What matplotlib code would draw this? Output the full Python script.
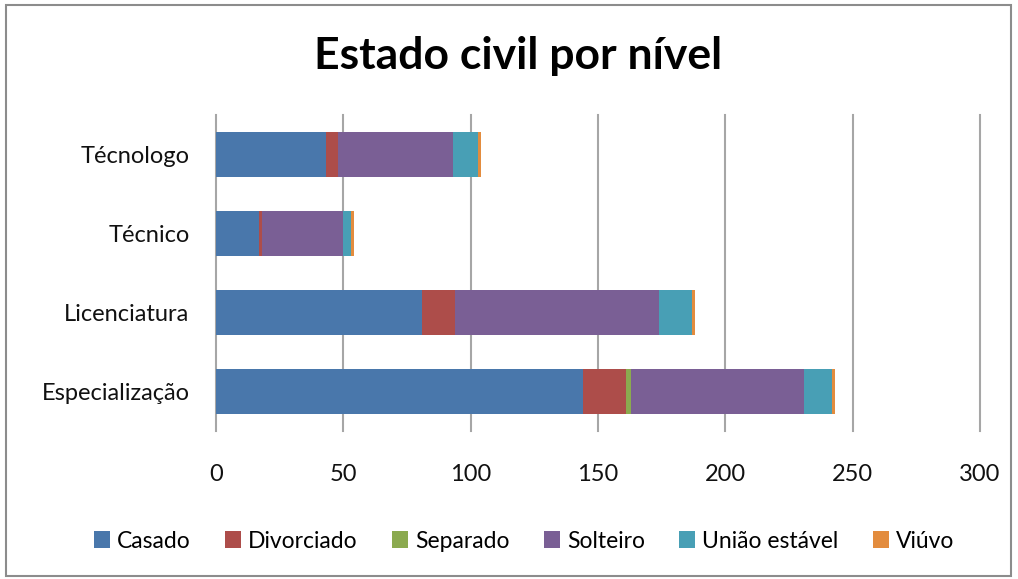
import matplotlib
matplotlib.use("Agg")
import matplotlib.pyplot as plt
import numpy as np
from matplotlib.patches import Rectangle

categories = ["Especialização", "Licenciatura", "Técnico", "Técnologo"]
series_names = ["Casado", "Divorciado", "Separado", "Solteiro", "União estável", "Viúvo"]
casado = [144, 81, 17, 43]
divorciado = [17, 13, 1, 5]
separado = [2, 0, 0, 0]
solteiro = [68, 80, 32, 45]
uniao = [11, 13, 3, 10]
viuvo = [1, 1, 1, 1]
series_values = [casado, divorciado, separado, solteiro, uniao, viuvo]
colors = ["#4977AB", "#AD4D4A", "#8BAA4F", "#7A5F95", "#489FB5", "#E38C3E"]
xticks = [0, 50, 100, 150, 200, 250, 300]

plt.rcParams['font.family'] = ['Lato', 'DejaVu Sans']

fig = plt.figure(figsize=(10.18, 5.79), dpi=100)
ax = fig.add_axes([216/1018, 1-431/579, (980-216)/1018, (431-115)/579])

y = np.arange(len(categories))
left = np.zeros(len(categories))
for name, vals, c in zip(series_names, series_values, colors):
    ax.barh(y, vals, left=left, height=0.57, color=c, label=name, zorder=3)
    left += np.array(vals)

ax.set_xlim(0, 300)
ax.set_ylim(-0.5, len(categories) - 0.5)
ax.set_xticks(xticks)
ax.set_xticklabels([str(t) for t in xticks])
ax.set_yticks(y)
ax.set_yticklabels(categories)
ax.tick_params(axis='both', length=0, labelsize=17, colors='#111111')
ax.tick_params(axis='x', pad=24)
ax.tick_params(axis='y', pad=19)
for s in ax.spines.values():
    s.set_visible(False)
ax.xaxis.grid(True, color='#A6A6A6', linewidth=1.5, zorder=0)
for ln in ax.get_xgridlines():
    ln.set_clip_on(False)
ax.set_axisbelow(True)

fig.text(518/1018, 1-56/579, "Estado civil por nível", ha='center', va='center',
         fontsize=32, fontweight='bold', color='#000000')

fig.legend(loc='center', bbox_to_anchor=(524/1018, 1-541/579), ncol=6, frameon=False,
           fontsize=16.5, handlelength=0.7, handleheight=0.7, handletextpad=0.3,
           columnspacing=1.5)

fig.patches.append(Rectangle((6/1018, 1-576/579), (1011-6)/1018, (576-5)/579,
                             transform=fig.transFigure, fill=False,
                             edgecolor='#8C8C8C', linewidth=1.5))

fig.savefig("out.png", dpi=100)
